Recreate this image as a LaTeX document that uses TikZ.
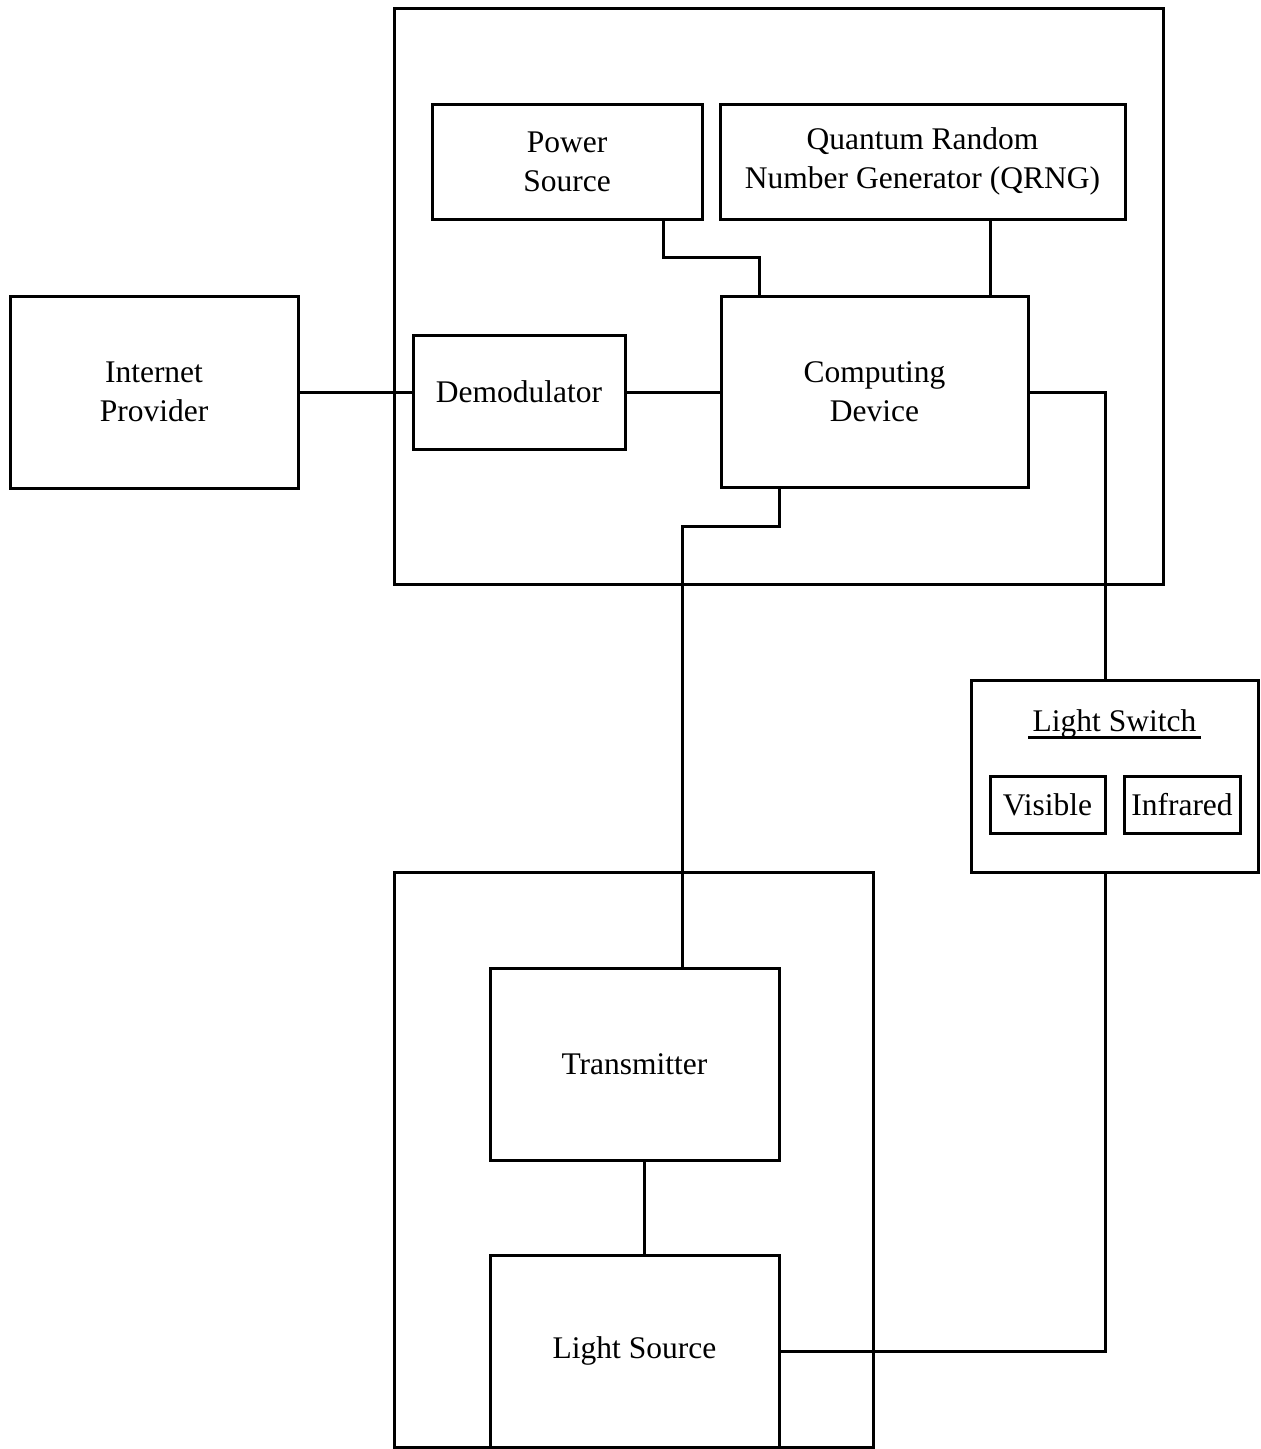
\documentclass[tikz,border=0pt]{standalone}
\usepackage{fontspec}
\setmainfont{Liberation Serif}
\begin{document}
\begin{tikzpicture}[x=1pt,y=-1pt,
  box/.style={draw, line width=3pt, inner sep=0pt, outer sep=0pt, align=center,
    font=\fontsize{31.5}{39}\selectfont},
  wire/.style={line width=3pt},
  frame/.style={draw, line width=3pt}]
\useasboundingbox (0,0) rectangle (1261,1449);
% outer containers
\draw[frame] (394,8) rectangle (1163,584);
\draw[frame] (394,872) rectangle (873,1447);
% boxes
\node[box, minimum width=270pt, minimum height=115pt] (ps) at (567,161.5) {Power\\Source};
\node[box, minimum width=405pt, minimum height=115pt] (qr) at (922.5,161.5) {Quantum Random\\Number Generator (QRNG)};
\node[box, minimum width=288pt, minimum height=192pt] (ip) at (154,392) {Internet\\Provider};
\node[box, minimum width=212pt, minimum height=114pt] (dm) at (519,392) {Demodulator};
\node[box, minimum width=307pt, minimum height=191pt] (cd) at (874.5,392) {Computing\\Device};
\node[box, minimum width=287pt, minimum height=192pt] (lsw) at (1114.5,776) {};
\node[font=\fontsize{31.5}{39}\selectfont, inner sep=0pt] (lswt) at (1114.5,724) {Light Switch};
\draw[line width=3pt] (1028,737) -- (1201,737);
\node[box, minimum width=115pt, minimum height=57pt] (vis) at (1047.5,804.5) {Visible};
\node[box, minimum width=116pt, minimum height=57pt] (ir) at (1182,804.5) {Infrared};
\node[box, minimum width=289pt, minimum height=192pt] (tx) at (634.5,1064) {Transmitter};
\node[box, minimum width=289pt, minimum height=192pt] (lsrc) at (634.5,1351) {Light Source};
% connectors
\coordinate (p1) at ([xshift=96pt]ps.south);
\coordinate (c1) at ([xshift=-115.5pt]cd.north);
\draw[wire] (p1) -- ++(0,38) -| (c1);
\coordinate (q1) at ([xshift=67.5pt]qr.south);
\draw[wire] (q1) -- (q1 |- cd.north);
\draw[wire] (ip.east) -- (dm.west);
\draw[wire] (dm.east) -- (cd.west);
\coordinate (s1) at ([xshift=-9.5pt]lsw.north);
\coordinate (s2) at ([xshift=-9.5pt]lsw.south);
\draw[wire] (cd.east) -| (s1);
\coordinate (c2) at ([xshift=-95.5pt]cd.south);
\coordinate (t1) at ([xshift=47.5pt]tx.north);
\draw[wire] (c2) -- ++(0,39) -| (t1);
\coordinate (t2) at ([xshift=9.5pt]tx.south);
\draw[wire] (t2) -- (t2 |- lsrc.north);
\draw[wire] (lsrc.east) -| (s2);
\end{tikzpicture}
\end{document}
